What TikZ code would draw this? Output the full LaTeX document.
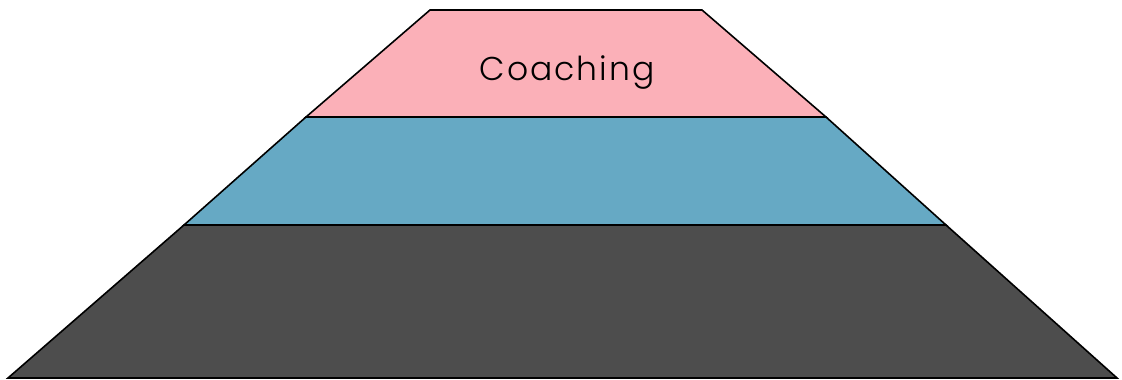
\documentclass[tikz,border=0pt]{standalone}
\usepackage{fontspec}
\setmainfont{Poppins}
\newfontfamily\labelfont[LetterSpace=6]{Poppins Light}
\definecolor{tierpink}{HTML}{FBB0B8}
\definecolor{tierblue}{HTML}{66A9C4}
\definecolor{tierdark}{HTML}{4D4D4D}
\begin{document}
\begin{tikzpicture}[x=1pt,y=-1pt,
  tier/.style={draw=black, line width=1.6pt, line join=miter}]
\useasboundingbox (0,0) rectangle (1122,380);
\fill[white] (0,0) rectangle (1122,380);
\filldraw[tier, fill=tierdark] (184,225) -- (946,225) -- (1117,378) -- (8,378) -- cycle;
\filldraw[tier, fill=tierblue] (306,117) -- (826,117) -- (946,225) -- (184,225) -- cycle;
\filldraw[tier, fill=tierpink] (430,10) -- (702,10) -- (826,117) -- (306,117) -- cycle;
\node[font=\labelfont\fontsize{33}{39}\selectfont, text=black, anchor=base, inner sep=0pt] (coaching) at (567,80) {Coaching};
\end{tikzpicture}
\end{document}
